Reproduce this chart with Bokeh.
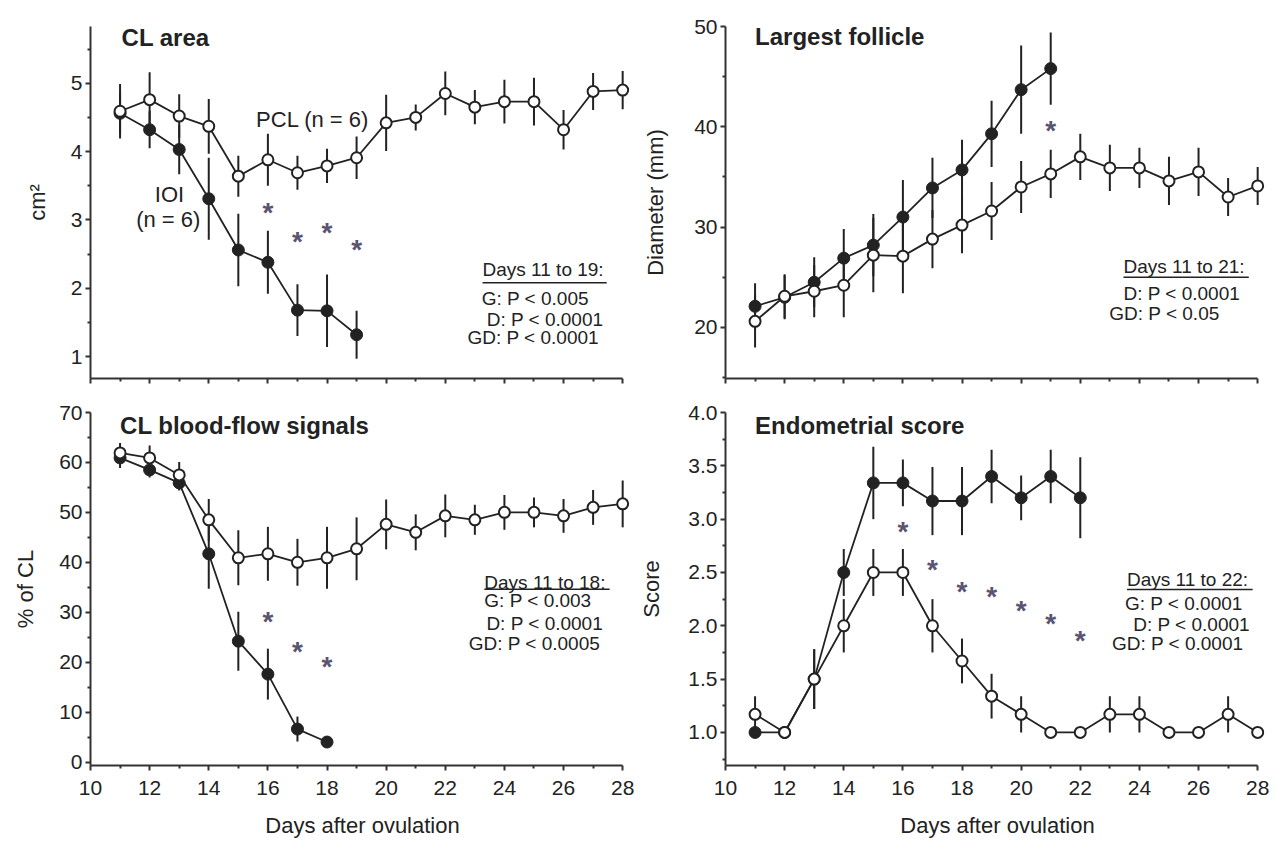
from bokeh.plotting import figure
from bokeh.models import Range1d, FixedTicker, Label
from bokeh.layouts import gridplot
from bokeh.embed import file_html
from bokeh.resources import INLINE
from bokeh.core.properties import value

# ---------------- data ----------------
days_pcl = list(range(11, 29))
x_major_ticks = [10, 12, 14, 16, 18, 20, 22, 24, 26, 28]
x_minor_ticks = [11, 13, 15, 17, 19, 21, 23, 25, 27]

# CL area (cm2)
area_pcl = [4.59, 4.76, 4.52, 4.37, 3.64, 3.88, 3.69, 3.79, 3.91, 4.42, 4.50, 4.85, 4.65, 4.73, 4.73, 4.32, 4.88, 4.90]
area_pcl_err = [0.40, 0.40, 0.32, 0.40, 0.30, 0.38, 0.25, 0.25, 0.31, 0.41, 0.19, 0.32, 0.25, 0.32, 0.35, 0.29, 0.27, 0.28]
area_ioi_days = list(range(11, 20))
area_ioi = [4.56, 4.32, 4.03, 3.31, 2.56, 2.38, 1.68, 1.67, 1.32]
area_ioi_err = [0.30, 0.27, 0.36, 0.60, 0.53, 0.46, 0.38, 0.53, 0.35]
area_star_days = [16, 17, 18, 19]
area_star_y = [3.17, 2.75, 2.88, 2.63]
area_yticks = [1, 2, 3, 4, 5]
area_yminor = [1.5, 2.5, 3.5, 4.5, 5.5]
area_stats = ["Days 11 to 19:", "G: P < 0.005", "D: P < 0.0001", "GD: P < 0.0001"]

# Largest follicle (mm)
foll_pcl = [20.6, 23.1, 23.6, 24.2, 27.2, 27.1, 28.8, 30.2, 31.6, 34.0, 35.3, 37.0, 35.9, 35.9, 34.6, 35.5, 33.0, 34.1]
foll_pcl_err = [2.6, 2.2, 2.6, 3.2, 3.7, 3.7, 2.9, 2.8, 2.9, 2.6, 2.4, 2.3, 2.3, 2.0, 2.4, 2.4, 1.9, 1.9]
foll_ioi_days = list(range(11, 22))
foll_ioi = [22.1, 23.0, 24.5, 26.9, 28.2, 31.0, 33.9, 35.7, 39.3, 43.7, 45.8]
foll_ioi_err = [2.3, 2.2, 2.5, 2.9, 3.1, 3.7, 3.0, 3.0, 3.3, 4.4, 3.6]
foll_star_days = [21]
foll_star_y = [40.0]
foll_yticks = [20, 30, 40, 50]
foll_yminor = [15, 25, 35, 45]
foll_stats = ["Days 11 to 21:", "D: P < 0.0001", "GD: P < 0.05"]

# CL blood-flow signals (% of CL)
flow_pcl = [61.9, 60.9, 57.5, 48.5, 40.9, 41.7, 40.0, 40.9, 42.7, 47.6, 46.0, 49.3, 48.5, 50.0, 50.0, 49.3, 51.0, 51.7]
flow_pcl_err = [2.0, 2.5, 2.6, 4.2, 5.5, 5.4, 4.7, 6.2, 6.3, 5.0, 3.6, 4.3, 3.0, 3.5, 3.0, 3.4, 3.5, 4.7]
flow_ioi_days = list(range(11, 19))
flow_ioi = [60.9, 58.5, 55.9, 41.7, 24.2, 17.6, 6.6, 4.0]
flow_ioi_err = [2.0, 1.5, 1.5, 7.0, 5.9, 5.1, 2.5, 1.0]
flow_star_days = [16, 17, 18]
flow_star_y = [28.9, 22.9, 19.9]
flow_yticks = [0, 10, 20, 30, 40, 50, 60, 70]
flow_yminor = [5, 15, 25, 35, 45, 55, 65]
flow_stats = ["Days 11 to 18:", "G: P < 0.003", "D: P < 0.0001", "GD: P < 0.0005"]

# Endometrial score
endo_pcl = [1.17, 1.0, 1.5, 2.0, 2.5, 2.5, 2.0, 1.67, 1.34, 1.17, 1.0, 1.0, 1.17, 1.17, 1.0, 1.0, 1.17, 1.0]
endo_pcl_err = [0.17, 0, 0.28, 0.25, 0.22, 0.22, 0.25, 0.21, 0.21, 0.17, 0, 0, 0.17, 0.17, 0, 0, 0.17, 0]
endo_ioi_days = list(range(11, 23))
endo_ioi = [1.0, 1.0, 1.5, 2.5, 3.34, 3.34, 3.17, 3.17, 3.4, 3.2, 3.4, 3.2]
endo_ioi_err = [0, 0, 0.28, 0.22, 0.34, 0.22, 0.32, 0.32, 0.25, 0.21, 0.25, 0.38]
endo_star_days = [16, 17, 18, 19, 20, 21, 22]
endo_star_y = [2.92, 2.57, 2.36, 2.31, 2.18, 2.06, 1.90]
endo_yticks = [1.0, 1.5, 2.0, 2.5, 3.0, 3.5, 4.0]
endo_yminor = [0.75, 1.25, 1.75, 2.25, 2.75, 3.25, 3.75]
endo_stats = ["Days 11 to 22:", "G: P < 0.0001", "D: P < 0.0001", "GD: P < 0.0001"]

FONT = "Liberation Sans"
INK = "#222222"
STAR = "#5a5470"
X_END = 28.4   # a little room so the day-28 markers are not clipped


def make_panel(width, height, mb, yrange, yticks, yminor, ylabel, ylabel_standoff,
               title, title_pos, pcl, pcl_err, ioi_days, ioi, ioi_err,
               star_days, star_y, stats, stats_pos, underline, show_x, ytick_fmt=None):
    p = figure(width=width, height=height, output_backend="svg", toolbar_location=None,
               x_range=Range1d(10, X_END), y_range=Range1d(*yrange),
               min_border_left=mb[0], min_border_right=mb[1],
               min_border_top=mb[2], min_border_bottom=mb[3])
    p.outline_line_color = None
    p.grid.grid_line_color = None
    p.background_fill_color = "white"
    p.border_fill_color = "white"

    # axes
    p.xaxis.ticker = FixedTicker(ticks=x_major_ticks, minor_ticks=x_minor_ticks)
    p.xaxis.bounds = (10, 28)
    p.yaxis.ticker = FixedTicker(ticks=yticks, minor_ticks=yminor)
    for ax in (p.xaxis[0], p.yaxis[0]):
        ax.axis_line_color = "#333333"
        ax.axis_line_width = 2
        ax.major_tick_line_color = "#333333"
        ax.major_tick_line_width = 2
        ax.minor_tick_line_color = "#333333"
        ax.minor_tick_line_width = 2
        ax.major_tick_in = 0
        ax.minor_tick_in = 0
        ax.major_label_text_font = FONT
        ax.major_label_text_color = INK
        ax.major_label_text_font_size = "21px"
        ax.axis_label_text_font = FONT
        ax.axis_label_text_font_style = "normal"
        ax.axis_label_text_color = INK
        ax.axis_label_text_font_size = "22px"
    p.xaxis.major_tick_out = 5
    p.xaxis.minor_tick_out = 3
    p.yaxis.major_tick_out = 5
    p.yaxis.minor_tick_out = 3
    p.yaxis.major_label_standoff = 3
    p.yaxis.axis_label = ylabel
    p.yaxis.axis_label_standoff = ylabel_standoff
    if ytick_fmt is not None:
        p.yaxis.major_label_overrides = {t: ytick_fmt.format(t) for t in yticks}
    if show_x:
        p.xaxis.axis_label = "Days after ovulation"
        p.xaxis.major_label_standoff = 10
        p.xaxis.axis_label_standoff = 15
    else:
        p.xaxis.major_label_overrides = {t: "" for t in x_major_ticks}
        p.xaxis.major_label_standoff = 0

    # error bars
    p.segment(x0=ioi_days, y0=[v - e for v, e in zip(ioi, ioi_err)],
              x1=ioi_days, y1=[v + e for v, e in zip(ioi, ioi_err)],
              line_color=INK, line_width=2)
    p.segment(x0=days_pcl, y0=[v - e for v, e in zip(pcl, pcl_err)],
              x1=days_pcl, y1=[v + e for v, e in zip(pcl, pcl_err)],
              line_color=INK, line_width=2)
    # connecting lines and markers: IOI filled, PCL open
    p.line(ioi_days, ioi, line_color=INK, line_width=1.8)
    p.line(days_pcl, pcl, line_color=INK, line_width=1.8)
    p.scatter(ioi_days, ioi, size=12, marker="circle", fill_color=INK, line_color=INK, line_width=1)
    p.scatter(days_pcl, pcl, size=11, marker="circle", fill_color="white", line_color=INK, line_width=2)

    # significance asterisks
    p.text(x=star_days, y=star_y, text=["*"] * len(star_days), text_font=value(FONT),
           text_font_style="bold", text_font_size="28px", text_color=STAR,
           text_align="center", text_baseline="middle", y_offset=4)

    # panel title
    p.add_layout(Label(x=title_pos[0], y=title_pos[1], text=title, text_font=FONT,
                       text_font_style="bold", text_font_size="24px", text_color=INK,
                       text_baseline="middle", text_align="left"))

    # statistics box
    for s, (sx, sy) in zip(stats, stats_pos):
        p.add_layout(Label(x=sx, y=sy, text=s, text_font=FONT, text_font_size="19px",
                           text_color=INK, text_baseline="middle", text_align="left"))
    p.segment(x0=[underline[0]], y0=[underline[2]], x1=[underline[1]], y1=[underline[2]],
              line_color=INK, line_width=1.5)
    return p


LEFT_W, RIGHT_W = 634, 644

p1 = make_panel(LEFT_W, 400, (90, 0, 26, 22), (0.68, 5.83), area_yticks, area_yminor, "cm²", 18,
                "CL area", (11.05, 5.67), area_pcl, area_pcl_err, area_ioi_days, area_ioi, area_ioi_err,
                area_star_days, area_star_y, area_stats,
                [(23.26, 2.28), (23.23, 1.85), (23.40, 1.55), (22.75, 1.28)],
                (23.26, 27.46, 2.08), False)
p1.add_layout(Label(x=15.6, y=4.47, text="PCL (n = 6)", text_font=FONT, text_font_size="22px",
                    text_color=INK, text_baseline="middle", text_align="left"))
p1.add_layout(Label(x=12.67, y=3.37, text="IOI", text_font=FONT, text_font_size="22px",
                    text_color=INK, text_baseline="middle", text_align="center"))
p1.add_layout(Label(x=12.63, y=3.01, text="(n = 6)", text_font=FONT, text_font_size="22px",
                    text_color=INK, text_baseline="middle", text_align="center"))

p2 = make_panel(RIGHT_W, 400, (91, 9, 26, 22), (14.9, 50), foll_yticks, foll_yminor, "Diameter (mm)", 23,
                "Largest follicle", (11.0, 49.0), foll_pcl, foll_pcl_err, foll_ioi_days, foll_ioi, foll_ioi_err,
                foll_star_days, foll_star_y, foll_stats,
                [(23.46, 26.05), (23.46, 23.4), (22.98, 21.4)],
                (23.46, 27.7, 25.0), False)

p3 = make_panel(LEFT_W, 442, (90, 0, 12, 77), (-0.7, 70), flow_yticks, flow_yminor, "% of CL", 18,
                "CL blood-flow signals", (11.0, 67.4), flow_pcl, flow_pcl_err, flow_ioi_days, flow_ioi, flow_ioi_err,
                flow_star_days, flow_star_y, flow_stats,
                [(23.32, 36.0), (23.32, 32.3), (23.39, 27.7), (22.79, 23.7)],
                (23.32, 27.56, 34.6), True)

p4 = make_panel(RIGHT_W, 442, (91, 9, 12, 77), (0.69, 4.0), endo_yticks, endo_yminor, "Score", 21,
                "Endometrial score", (11.0, 3.88), endo_pcl, endo_pcl_err, endo_ioi_days, endo_ioi, endo_ioi_err,
                endo_star_days, endo_star_y, endo_stats,
                [(23.58, 2.43), (23.51, 2.21), (23.79, 2.01), (23.07, 1.83)],
                (23.58, 27.83, 2.34), True, ytick_fmt="{:.1f}")

grid = gridplot([[p1, p2], [p3, p4]], toolbar_location=None)
open("out.html", "w").write(file_html(grid, INLINE))
